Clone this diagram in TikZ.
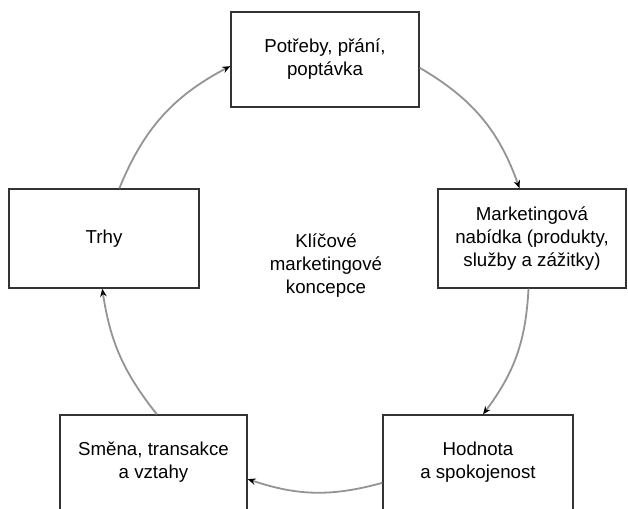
\documentclass[tikz,border=0pt]{standalone}
\usepackage{fontspec}
\setmainfont{Liberation Sans}
\usetikzlibrary{arrows.meta}

\tikzset{
  concept/.style={draw=black!80,line width=1.4pt,fill=white,align=center,inner sep=0pt},
  flow/.style={draw=black!42,line width=1.8pt,-{Stealth[black,length=8pt,width=6.5pt]}},
}

\begin{document}
\begin{tikzpicture}[x=1pt,y=-1pt,font=\fontsize{18.7}{23}\selectfont]

    \clip (0,0) rectangle (628,508);

    % Concept boxes
    \node [concept,minimum width=188pt,minimum height=95pt] (needs) at (325,59.5) {Potřeby, přání,\\poptávka};
    \node [concept,minimum width=188pt,minimum height=99pt] (offer) at (532,238.5) {Marketingová\\nabídka (produkty,\\služby a zážitky)};
    \node [concept,minimum width=190pt,minimum height=95pt] (value) at (478,462.5) {Hodnota\\a spokojenost};
    \node [concept,minimum width=187pt,minimum height=95pt] (exchange) at (153.5,462.5) {Směna, transakce\\a vztahy};
    \node [concept,minimum width=190pt,minimum height=99pt] (markets) at (104,238.5) {Trhy};

    % Centre label
    \node [align=center] (core) at (326,266) {Klíčové\\marketingové\\koncepce};

    % Cycle arrows
    \draw [flow] (markets.73) to [bend left=20] (needs.184);
    \draw [flow] (needs.355) to [bend left=20] (offer.104);
    \draw [flow] (offer.266) to [bend left=17] (value.84);
    \draw [flow] (value.192) to [bend left=17] (exchange.350);
    \draw [flow] (exchange.86) to [bend left=15] (markets.268);

\end{tikzpicture}
\end{document}
